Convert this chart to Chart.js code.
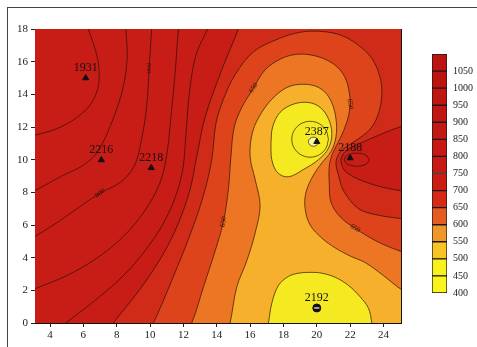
<!DOCTYPE html>
<html>
<head>
<meta charset="utf-8">
<script src="https://cdn.jsdelivr.net/npm/chart.js@4.4.1/dist/chart.umd.min.js"></script>
<style>
  html, body { margin: 0; padding: 0; background: #fff; }
  #wrap { position: relative; width: 477px; height: 347px; overflow: hidden; }
  #frame { position: absolute; left: 7px; top: 7px; width: 480px; height: 350px;
           border-left: 1.5px solid #444; border-top: 1.5px solid #444; }
  #main { position: absolute; left: 0; top: 0; }
  #bar { position: absolute; left: 420px; top: 0; }
</style>
</head>
<body>
<div id="wrap">
  <div id="frame"></div>
  <canvas id="main" width="477" height="347"></canvas>
  <canvas id="bar" width="57" height="347"></canvas>
</div>
<script>
// axes
const xMin = 3.1, xMax = 25.05, yMin = 0, yMax = 18;
const xTicks = [4, 6, 8, 10, 12, 14, 16, 18, 20, 22, 24];
const yTicks = [0, 2, 4, 6, 8, 10, 12, 14, 16, 18];

// sampling sites (triangles) and the well at the bottom
const siteX = [6.14, 7.08, 10.07, 20.0, 22.0];
const siteY = [15.0, 9.98, 9.5, 11.1, 10.1];
const siteNames = ['1931', '2216', '2218', '2387', '2188'];
const wellX = [20.0];
const wellY = [0.92];
const wellNames = ['2192'];

// labels written on the contour lines
const contourTextX = [9.95, 7.0, 16.2, 22.0, 14.4, 22.3];
const contourTextY = [15.6, 7.95, 14.4, 13.4, 6.2, 5.8];
const contourText = ['800', '800', '650', '650', '650', '650'];
const contourTextAngle = [90, -35, -55, 80, -80, 30];

// contour lines, [x, y]
const lineAround1931 = [[2.8,11.4],[3.1,11.5],[4.0,11.75],[4.84,12.1],[5.7,12.65],[6.44,13.4],[6.85,14.3],[6.95,15.2],[6.85,16.2],[6.6,17.1],[6.3,18.0],[6.2,18.3]];
const lineWest2 = [[8.55,18.3],[8.55,18],[8.63,16.2],[8.33,14.2],[7.63,12.1],[6.8,10.4],[5.9,9.6],[4.8,9.05],[3.9,8.55],[3.1,8.1],[2.8,7.95]];
const line800 = [[10.15,18.3],[10.1,18],[9.95,15.6],[9.8,13.3],[9.5,11.3],[9.05,9.6],[8.2,8.6],[7.0,7.95],[5.9,7.2],[4.5,6.2],[3.1,5.3],[2.8,5.1]];
const lineWest4 = [[11.75,18.3],[11.7,18],[11.5,15.3],[11.25,12.6],[11.0,10.3],[10.6,8.6],[9.7,6.9],[8.4,5.3],[6.8,3.97],[5.0,2.9],[3.1,2.1],[2.8,2.0]];
const lineWest5 = [[13.55,18.3],[13.45,18],[12.75,16.4],[12.35,14.0],[12.15,11.5],[11.9,9.06],[11.1,6.7],[9.9,4.7],[8.4,2.9],[6.6,1.3],[4.95,0],[4.5,-0.4]];
const edgeRed = [[15.6,19],[15.3,18],[14.3,15.5],[13.3,12.6],[12.8,10.2],[12.3,7.8],[11.2,5.0],[9.7,2.5],[7.8,0],[7.1,-1],[26,-1],[26,19.5],[15.8,19.5]];
const edgeEastHigh = [[26.5,12.3],[25,12.0],[23.6,11.45],[22.5,10.95],[21.7,10.5],[21.45,9.9],[21.8,9.2],[23.3,8.5],[25,8.1],[26.5,7.9]];
const ringEastHigh = [[23.15,10.0],[22.95,10.28],[22.4,10.4],[21.85,10.28],[21.65,10.0],[21.85,9.72],[22.4,9.6],[22.95,9.72],[23.15,10.0]];
const edgeRedOrange = [[9.6,-1],[10.2,0],[11.3,2.6],[12.4,5.4],[13.2,7.8],[13.7,10.0],[13.95,12.2],[14.4,13.7],[15.1,15.2],[16.2,16.6],[17.7,17.4],[19.0,17.8],[20.3,17.85],[21.5,17.6],[22.5,17.0],[23.3,16.2],[23.75,15.2],[23.9,14.2],[23.75,13.0],[23.3,12.0],[22.6,11.35],[21.85,10.85],[21.35,10.4],[21.15,9.8],[21.3,9.06],[21.6,8.1],[22.5,7.0],[23.7,6.6],[25,6.4],[26.5,6.2],[26.5,-1]];
const edge650 = [[11.9,-1],[12.5,0],[13.2,2.2],[13.9,4.4],[14.4,6.2],[14.7,8.2],[14.85,10.2],[15.05,12.0],[15.5,13.2],[16.1,14.2],[16.9,15.5],[17.9,16.2],[18.8,16.45],[19.7,16.4],[20.6,16.1],[21.3,15.6],[21.75,14.9],[21.95,14.1],[22.0,13.3],[21.8,12.3],[21.4,11.3],[20.95,10.4],[20.75,9.6],[20.75,8.5],[20.85,7.4],[21.4,6.5],[22.3,5.8],[23.6,5.0],[25,4.4],[26.5,3.9],[26.5,-1]];
const edgeYellowOrange = [[14.5,-1],[14.8,0],[15.2,2.2],[15.8,3.8],[16.3,5.5],[16.6,7.2],[16.3,8.8],[16.0,10.2],[16.15,11.7],[16.7,12.9],[17.5,13.9],[18.4,14.5],[19.5,14.6],[20.3,14.3],[20.85,13.6],[21.15,12.5],[21.15,11.4],[20.85,10.5],[20.3,9.8],[19.8,9.06],[19.35,8.0],[19.3,7.0],[19.6,6.0],[20.3,5.2],[21.1,4.6],[22.0,4.1],[22.9,3.7],[24.0,2.9],[25,2.1],[26.5,1.2],[26.5,-1]];
const yellowCore = [[17.25,11.0],[17.35,12.0],[17.8,12.9],[18.6,13.4],[19.5,13.5],[20.2,13.2],[20.7,12.5],[20.9,11.6],[20.7,10.7],[20.1,10.0],[19.2,9.4],[18.3,8.95],[17.65,9.2],[17.3,10.0],[17.25,11.0]];
const yellowCoreRing = [[20.7,11.25],[20.55,11.8],[20.15,12.2],[19.6,12.35],[19.05,12.2],[18.65,11.8],[18.5,11.25],[18.65,10.7],[19.05,10.3],[19.6,10.15],[20.15,10.3],[20.55,10.7],[20.7,11.25]];
const yellowCoreInner = [[20.1,11.1],[20.01,11.3],[19.8,11.38],[19.59,11.3],[19.5,11.1],[19.59,10.9],[19.8,10.82],[20.01,10.9],[20.1,11.1]];
const yellowSouth = [[16.9,-1],[17.1,0],[17.3,1.2],[17.7,2.3],[18.3,2.85],[18.9,3.05],[19.6,3.1],[20.3,3.05],[21.1,2.8],[21.9,2.3],[22.6,1.6],[23.1,0.9],[23.3,0],[23.4,-1]];

// colour bar
const cbLow = [400, 450, 500, 550, 600, 650, 700, 750, 800, 850, 900, 950, 1000, 1050];
const cbTicks = [400, 450, 500, 550, 600, 650, 700, 750, 800, 850, 900, 950, 1000, 1050];
const cbColors = ['#fbf41c', '#faf01c', '#f8c424', '#f0952a', '#e45c22', '#d72a16', '#cb1c14',
                  '#c81a14', '#c61814', '#c41812', '#c21612', '#c01612', '#be1410', '#bc1410'];

const darkRed = '#c81c17';
const lineColor = 'rgba(40,15,5,0.85)';
const serif = '"Liberation Serif", "Times New Roman", serif';

function toXY(pts) { return pts.map(p => ({x: p[0], y: p[1]})); }

function region(pts, color, order) {
  return {
    data: toXY(pts), showLine: true, fill: 'shape', backgroundColor: color,
    borderColor: lineColor, borderWidth: 0.8, pointRadius: 0, tension: 0.35,
    capBezierPoints: false, clip: 0, order: order
  };
}
function contour(pts, order) {
  return {
    data: toXY(pts), showLine: true, fill: false, backgroundColor: 'transparent',
    borderColor: lineColor, borderWidth: 0.8, pointRadius: 0, tension: 0.35,
    capBezierPoints: false, clip: 0, order: order
  };
}

const bgPlugin = {
  id: 'bg',
  beforeDatasetsDraw(chart) {
    const {ctx, chartArea: a} = chart;
    ctx.save();
    ctx.fillStyle = darkRed;
    ctx.fillRect(a.left, a.top, a.width, a.height);
    ctx.restore();
  }
};

const textPlugin = {
  id: 'texts',
  afterDatasetsDraw(chart) {
    const {ctx, scales: {x, y}} = chart;
    ctx.save();
    ctx.fillStyle = '#2a1206';
    ctx.font = '7px ' + serif;
    ctx.textAlign = 'center';
    ctx.textBaseline = 'middle';
    contourText.forEach((t, i) => {
      ctx.save();
      ctx.translate(x.getPixelForValue(contourTextX[i]), y.getPixelForValue(contourTextY[i]));
      ctx.rotate(contourTextAngle[i] * Math.PI / 180);
      ctx.fillText(t, 0, 0);
      ctx.restore();
    });
    ctx.fillStyle = '#111';
    ctx.font = '12px ' + serif;
    siteNames.forEach((t, i) => {
      ctx.fillText(t, x.getPixelForValue(siteX[i]), y.getPixelForValue(siteY[i]) - 10);
    });
    wellNames.forEach((t, i) => {
      ctx.fillText(t, x.getPixelForValue(wellX[i]), y.getPixelForValue(wellY[i]) - 10);
    });
    ctx.restore();
  }
};

const tickFont = {family: serif, size: 11};

new Chart(document.getElementById('main'), {
  type: 'scatter',
  data: {
    datasets: [
      region(edgeRed, '#d02a18', 20),
      region(edgeEastHigh, darkRed, 19),
      region(edgeRedOrange, '#de441c', 18),
      region(edge650, '#ec7624', 17),
      region(edgeYellowOrange, '#f6b02b', 16),
      region(yellowCore, '#f5ea22', 15),
      region(yellowSouth, '#f5ea22', 15),
      region(yellowCoreInner, '#fbf7a0', 14),
      contour(yellowCoreRing, 10),
      contour(ringEastHigh, 10),
      contour(lineAround1931, 10),
      contour(lineWest2, 10),
      contour(line800, 10),
      contour(lineWest4, 10),
      contour(lineWest5, 10),
      {
        data: siteX.map((v, i) => ({x: v, y: siteY[i]})), pointStyle: 'triangle',
        pointRadius: 3.5, backgroundColor: '#111', borderColor: '#111', borderWidth: 1, order: 2
      },
      {
        data: wellX.map((v, i) => ({x: v, y: wellY[i]})), pointStyle: 'circle',
        pointRadius: 4, backgroundColor: '#111', borderColor: '#111', borderWidth: 1, order: 2
      },
      {
        data: wellX.map((v, i) => ({x: v, y: wellY[i]})), pointStyle: 'line',
        pointRadius: 2.6, borderColor: '#fff', borderWidth: 1.2, order: 1
      }
    ]
  },
  options: {
    responsive: false,
    animation: false,
    events: [],
    layout: {padding: {left: 0, right: 76, top: 29, bottom: 0}},
    plugins: {legend: {display: false}, tooltip: {enabled: false}},
    scales: {
      x: {
        type: 'linear', position: 'bottom', min: xMin, max: xMax,
        afterBuildTicks: s => { s.ticks = xTicks.map(v => ({value: v})); },
        afterFit: s => { s.height = 24; },
        grid: {drawOnChartArea: false, drawTicks: true, tickLength: 4, color: '#222'},
        border: {display: true, color: '#111', width: 1},
        ticks: {font: tickFont, color: '#222', padding: 2, maxRotation: 0, autoSkip: false}
      },
      y: {
        type: 'linear', position: 'left', min: yMin, max: yMax,
        afterBuildTicks: s => { s.ticks = yTicks.map(v => ({value: v})); },
        afterFit: s => { s.width = 35; },
        grid: {drawOnChartArea: false, drawTicks: true, tickLength: 4, color: '#222'},
        border: {display: true, color: '#111', width: 1},
        ticks: {font: tickFont, color: '#222', padding: 3, autoSkip: false}
      },
      x2: {
        type: 'linear', position: 'top', min: xMin, max: xMax,
        afterFit: s => { s.height = 0; },
        grid: {display: false}, ticks: {display: false},
        border: {display: true, color: '#111', width: 1}
      },
      y2: {
        type: 'linear', position: 'right', min: yMin, max: yMax,
        afterFit: s => { s.width = 0; },
        grid: {display: false}, ticks: {display: false},
        border: {display: true, color: '#111', width: 1}
      }
    }
  },
  plugins: [bgPlugin, textPlugin]
});

new Chart(document.getElementById('bar'), {
  type: 'bar',
  data: {
    labels: [''],
    datasets: cbLow.map((lo, i) => ({
      data: [[lo, lo + 50]], backgroundColor: cbColors[i], borderColor: '#1a1a1a',
      borderWidth: 1, borderSkipped: false, grouped: false,
      barPercentage: 1, categoryPercentage: 1
    }))
  },
  options: {
    responsive: false,
    animation: false,
    events: [],
    layout: {padding: {left: 12, right: 0, top: 54, bottom: 54}},
    plugins: {legend: {display: false}, tooltip: {enabled: false}},
    scales: {
      x: {display: false},
      y: {
        position: 'right', min: 400, max: 1100,
        afterBuildTicks: s => { s.ticks = cbTicks.map(v => ({value: v})); },
        afterFit: s => { s.width = 30; },
        grid: {display: false, drawTicks: false, tickLength: 0}, border: {display: false},
        ticks: {font: {family: serif, size: 10}, color: '#222', padding: 6, autoSkip: false,
                callback: v => String(v)}
      }
    }
  }
});
</script>
</body>
</html>
